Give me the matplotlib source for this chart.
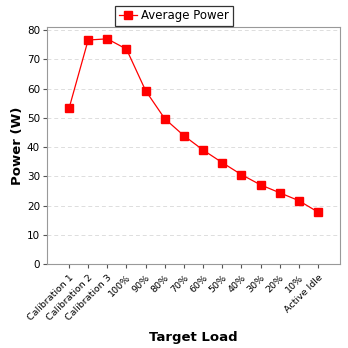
import matplotlib
matplotlib.use("Agg")
import matplotlib.pyplot as plt

categories = ["Calibration 1", "Calibration 2", "Calibration 3", "100%", "90%", "80%",
              "70%", "60%", "50%", "40%", "30%", "20%", "10%", "Active Idle"]
avg_power = [53.2, 76.6, 77.0, 73.5, 59.3, 49.7, 43.9, 39.0, 34.7, 30.6, 27.1, 24.4, 21.7, 17.8]
y_ticks = [0, 10, 20, 30, 40, 50, 60, 70, 80]

fig = plt.figure(figsize=(3.48, 3.48), dpi=100)
ax = fig.add_axes([0.135, 0.241, 0.842, 0.681])

x = list(range(len(categories)))
ax.plot(x, avg_power, color="red", lw=0.9, marker="s", markersize=6,
        markeredgecolor="red", label="Average Power")

ax.set_xlim(-1.15, len(categories) - 1 + 1.15)
ax.set_ylim(0, 81)
ax.set_yticks(y_ticks)
ax.set_xticks(x)
ax.set_xticklabels(categories, rotation=45, ha="right", rotation_mode="anchor")
ax.tick_params(labelsize=6.8, colors="#555555", length=3, labelcolor="black")
ax.tick_params(axis="y", labelsize=7.5, pad=2)
ax.yaxis.grid(True, linestyle=(0, (4, 3)), color="#dddddd", lw=0.7)
ax.set_axisbelow(True)
for s in ax.spines.values():
    s.set_color("#999999")

ax.set_ylabel("Power (W)", fontsize=9.5, fontweight="bold", va="center")
ax.yaxis.set_label_coords(-0.102, 0.5)
ax.set_xlabel("Target Load", fontsize=9.5, fontweight="bold", va="center")
ax.xaxis.set_label_coords(0.5, -0.308)

leg = fig.legend(loc="upper center", bbox_to_anchor=(0.5, 1.0), fontsize=8.5,
                 frameon=True, fancybox=False, edgecolor="black", handlelength=1.5,
                 borderpad=0.3, handletextpad=0.4)
leg.get_frame().set_linewidth(0.9)

fig.savefig("out.png", dpi=100)
